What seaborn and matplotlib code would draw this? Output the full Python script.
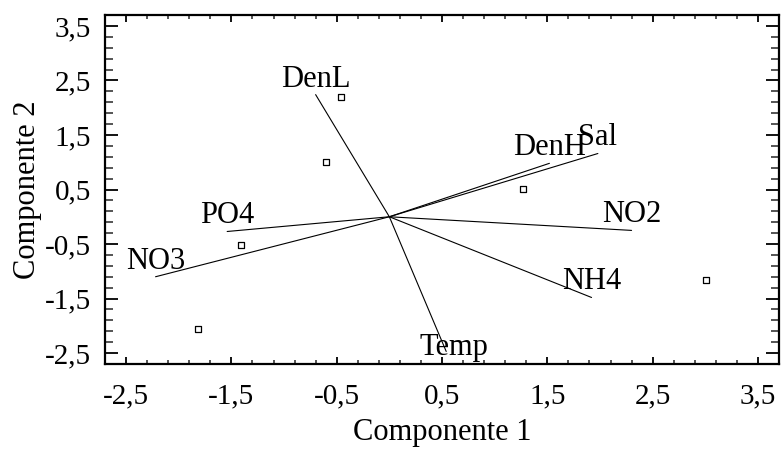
import matplotlib
matplotlib.use("Agg")
import matplotlib.pyplot as plt
import seaborn as sns
import pandas as pd
from matplotlib.ticker import FixedLocator, FuncFormatter

# Variable vectors (loadings)
var_names = ["DenL", "Temp", "DenH", "Sal", "NO2", "NH4", "PO4", "NO3"]
var_x = [-0.70, 0.54, 1.52, 1.98, 2.30, 1.92, -1.54, -2.22]
var_y = [2.24, -2.47, 0.98, 1.16, -0.25, -1.48, -0.27, -1.10]

# Observations (scores)
obs_x = [-0.46, -0.60, 1.27, 3.01, -1.41, -1.82]
obs_y = [2.19, 1.01, 0.51, -1.16, -0.52, -2.05]

x_ticks = [-2.5, -1.5, -0.5, 0.5, 1.5, 2.5, 3.5]
y_ticks = [-2.5, -1.5, -0.5, 0.5, 1.5, 2.5, 3.5]

sns.set_style("ticks")
plt.rcParams["font.family"] = ["Liberation Serif", "DejaVu Serif"]

fig = plt.figure(figsize=(7.82, 4.49), dpi=100)
ax = fig.add_axes([105 / 782, 1 - 364 / 449, (779 - 105) / 782, (364 - 15) / 449])

# vectors
for n, vx, vy in zip(var_names, var_x, var_y):
    ax.plot([0, vx], [0, vy], color="black", lw=0.8)

label_offsets = {"Temp": (5.5, -2.2)}
for n, vx, vy in zip(var_names, var_x, var_y):
    dx, dy = label_offsets.get(n, (0, 5.8))
    ax.annotate(n, (vx, vy), xytext=(dx, dy), textcoords="offset points",
                ha="center", va="baseline", fontsize=22, color="black")

df = pd.DataFrame({"x": obs_x, "y": obs_y})
sns.scatterplot(data=df, x="x", y="y", ax=ax, marker="s", s=22,
                facecolor="white", edgecolor="black", linewidth=0.9, zorder=3)

ax.set_xlim(-2.7, 3.7)
ax.set_ylim(-2.7, 3.7)

minor = [-2.5 + 0.2 * k for k in range(32)]
ax.xaxis.set_major_locator(FixedLocator(x_ticks))
ax.yaxis.set_major_locator(FixedLocator(y_ticks))
ax.xaxis.set_minor_locator(FixedLocator(minor))
ax.yaxis.set_minor_locator(FixedLocator(minor))
fmt = FuncFormatter(lambda v, p: ("%.1f" % v).replace(".", ","))
ax.xaxis.set_major_formatter(fmt)
ax.yaxis.set_major_formatter(fmt)

ax.tick_params(axis="x", which="major", direction="in", length=5, width=1.3,
               top=True, bottom=True, labelsize=21, pad=14, colors="black")
ax.tick_params(axis="x", which="minor", direction="in", length=2.6, width=1.1,
               top=True, bottom=True)
ax.tick_params(axis="y", which="major", direction="in", length=9.5, width=1.3,
               left=True, right=True, labelsize=21, pad=10, colors="black")
ax.tick_params(axis="y", which="minor", direction="in", length=5.5, width=1.1,
               left=True, right=True)

for s in ax.spines.values():
    s.set_visible(True)
    s.set_linewidth(1.6)
    s.set_color("black")

ax.set_xlabel("Componente 1", fontsize=22, labelpad=6.5, color="black")
ax.set_ylabel("Componente 2", fontsize=22, labelpad=2, color="black")

fig.savefig("out.png", dpi=100)
